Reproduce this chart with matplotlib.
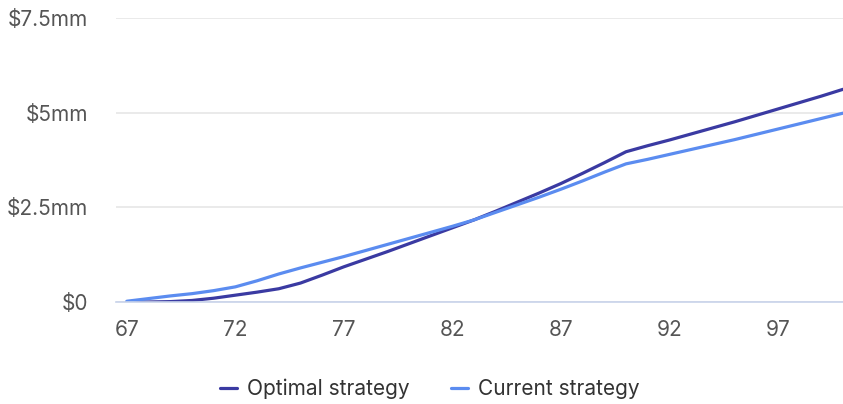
import matplotlib.pyplot as plt

plt.rcParams['font.family'] = ['Inter', 'DejaVu Sans']

# ages on the x axis
ages = list(range(67, 101))

# portfolio value, $mm
optimal = [0.00, 0.00, 0.01, 0.04, 0.10, 0.18, 0.26, 0.35, 0.50, 0.71,
           0.93, 1.13, 1.33, 1.54, 1.75, 1.96, 2.17, 2.40, 2.64, 2.88,
           3.13, 3.40, 3.68, 3.97, 4.13, 4.28, 4.44, 4.60, 4.76, 4.93,
           5.10, 5.27, 5.44, 5.62]
current = [0.02, 0.09, 0.16, 0.22, 0.30, 0.40, 0.56, 0.74, 0.90, 1.05,
           1.20, 1.36, 1.52, 1.68, 1.84, 2.00, 2.17, 2.37, 2.57, 2.77,
           2.98, 3.20, 3.43, 3.65, 3.77, 3.90, 4.03, 4.16, 4.29, 4.43,
           4.57, 4.71, 4.85, 4.99]

xticks = [67, 72, 77, 82, 87, 92, 97]
yticks = [0, 2.5, 5, 7.5]
ylabels = ['$0', '$2.5mm', '$5mm', '$7.5mm']

fig = plt.figure(figsize=(8.43, 4.04), dpi=100)
ax = fig.add_axes([0.1376, 0.2525, 0.8624, 0.7025])

ax.plot(ages, optimal, color='#3a3aa2', lw=2.3, label='Optimal strategy', solid_capstyle='round')
ax.plot(ages, current, color='#5b8cf0', lw=2.3, label='Current strategy', solid_capstyle='round')

ax.set_xlim(66.5, 100)
ax.set_ylim(0, 7.5)
ax.set_xticks(xticks)
ax.set_yticks(yticks)
ax.set_yticklabels(ylabels)
ax.grid(axis='y', color='#e6e6e6', lw=1.2)
ax.set_axisbelow(True)
for s in ['top', 'right', 'left']:
    ax.spines[s].set_visible(False)
ax.spines['bottom'].set_color('#c8d3ea')
ax.spines['bottom'].set_linewidth(1.2)
ax.tick_params(axis='both', length=0, labelsize=15, colors='#555555')
ax.tick_params(axis='y', pad=20)
ax.tick_params(axis='x', pad=13)

fig.legend(loc='lower center', ncol=2, frameon=False, fontsize=15,
           handlelength=0.8, columnspacing=2.0, handletextpad=0.5,
           bbox_to_anchor=(0.51, -0.035), labelcolor='#333333')

fig.savefig('out.png', dpi=100)
